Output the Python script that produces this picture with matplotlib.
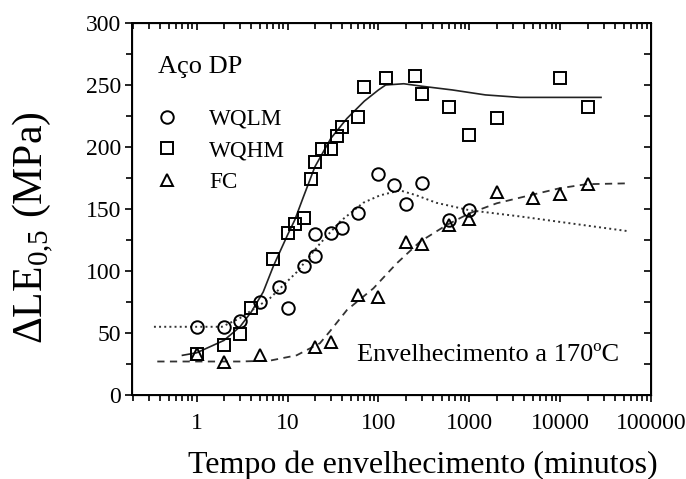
import matplotlib
matplotlib.use('Agg')
import matplotlib.pyplot as plt
from matplotlib.ticker import LogLocator, MultipleLocator, NullFormatter, FixedLocator

plt.rcParams['font.family'] = ['Liberation Serif', 'DejaVu Serif']
plt.rcParams['mathtext.fontset'] = 'custom'
plt.rcParams['mathtext.rm'] = 'Liberation Serif'

# dados (tempo em minutos, delta LE em MPa)
t_wqlm = [1, 2, 3, 5, 8, 10, 15, 20, 20, 30, 40, 60, 100, 150, 200, 300, 600, 1000]
v_wqlm = [55, 55, 60, 75, 87, 70, 104, 112, 130, 131, 135, 147, 178, 169, 154, 171, 141, 149]

t_wqhm = [1, 2, 3, 4, 7, 10, 12, 15, 18, 20, 24, 30, 35, 40, 60, 70, 120, 250, 300, 600, 1000, 2000, 10000, 20000]
v_wqhm = [33, 40, 49, 70, 110, 131, 138, 143, 174, 188, 198, 198, 209, 216, 224, 248, 256, 257, 243, 232, 210, 223, 256, 232]

t_fc = [1, 2, 5, 20, 30, 60, 100, 200, 300, 600, 1000, 2000, 5000, 10000, 20000]
v_fc = [33, 27, 32, 39, 43, 81, 79, 123, 122, 137, 142, 164, 159, 162, 170]

# curvas ajustadas (pontos lidos ao longo das linhas)
t_curva_wqhm = [0.7, 1, 2, 3, 4, 5.4, 7, 10, 12, 15, 20, 30, 45, 70, 100, 120, 190, 300, 650, 1500, 3600, 8000, 28000]
v_curva_wqhm = [32, 34, 44, 55, 67, 83, 104, 129, 141, 160, 184, 207, 223, 237, 246, 250, 251, 249, 246, 242, 240, 240, 240]

t_curva_wqlm = [0.34, 1, 1.9, 3, 6.4, 12.6, 22.7, 38, 68, 104, 173, 262, 433, 1000, 3600, 12700, 57000]
v_curva_wqlm = [55, 55, 55, 62, 78, 99, 122, 140, 155, 161, 165, 161, 155, 149, 144, 138.5, 132]

t_curva_fc = [0.37, 1, 3, 6.4, 12.6, 22.7, 29, 45, 88, 158, 286, 560, 1000, 2000, 4600, 9800, 19400, 57000]
v_curva_fc = [27, 27, 27, 27.7, 32, 41.7, 51, 68.5, 86, 106, 123.6, 137, 146.5, 154.6, 161, 166.7, 170, 170.7]

fig = plt.figure(figsize=(6.86, 4.79), dpi=100)
ax = fig.add_axes([0.1924, 0.1754, 0.757, 0.7766])

ax.plot(t_curva_wqhm, v_curva_wqhm, '-', color='#222222', lw=1.2)
ax.plot(t_curva_wqlm, v_curva_wqlm, ':', color='#333333', lw=1.4)
ax.plot(t_curva_fc, v_curva_fc, '--', color='#333333', lw=1.3, dashes=(4, 3))

mk = dict(linestyle='none', markerfacecolor='none', markeredgecolor='black', markeredgewidth=1.4)
ax.plot(t_wqlm, v_wqlm, marker='o', markersize=9, label='WQLM', **mk)
ax.plot(t_wqhm, v_wqhm, marker='s', markersize=8, label='WQHM', **mk)
ax.plot(t_fc, v_fc, marker='^', markersize=9, label='FC', **mk)

ax.set_xscale('log')
ax.set_xlim(0.195, 100000)
ax.set_ylim(0, 300)

ax.xaxis.set_major_locator(FixedLocator([1, 10, 100, 1000, 10000, 100000]))
ax.xaxis.set_minor_locator(LogLocator(base=10, subs=range(2, 10), numticks=20))
ax.xaxis.set_minor_formatter(NullFormatter())
ax.set_xticklabels(['1', '10', '100', '1000', '10000', '100000'])
ax.yaxis.set_major_locator(MultipleLocator(50))
ax.yaxis.set_minor_locator(MultipleLocator(25))

ax.tick_params(which='both', direction='out', labelsize=17, width=1.2, colors='black')
ax.tick_params(which='major', length=5, pad=3)
ax.tick_params(axis='x', which='major', pad=8)
ax.tick_params(which='minor', length=4)
for s in ax.spines.values():
    s.set_linewidth(1.4)

# ticks internos em cima e a direita
axt = ax.twiny()
axt.set_xscale('log')
axt.set_xlim(ax.get_xlim())
axt.xaxis.set_major_locator(FixedLocator([1, 10, 100, 1000, 10000, 100000]))
axt.xaxis.set_minor_locator(LogLocator(base=10, subs=range(2, 10), numticks=20))
axt.tick_params(which='both', direction='in', labeltop=False, width=1.2)
axt.tick_params(which='major', length=5)
axt.tick_params(which='minor', length=4)
axr = ax.twinx()
axr.set_ylim(ax.get_ylim())
axr.yaxis.set_major_locator(MultipleLocator(50))
axr.yaxis.set_minor_locator(MultipleLocator(25))
axr.tick_params(which='both', direction='in', labelright=False, width=1.2, length=5)

ax.legend(loc='upper left', bbox_to_anchor=(0.028, 0.795), frameon=False, fontsize=16.7,
          handlelength=1.0, handletextpad=1.3, labelspacing=0.45, borderaxespad=0)

ax.text(0.05, (395 - 67) / 372, 'Aço DP', transform=ax.transAxes, fontsize=19, va='center', ha='left')
ax.text(0.939, (395 - 355) / 372, 'Envelhecimento a 170ºC', transform=ax.transAxes, fontsize=19,
        va='center', ha='right')

fig.text(33 / 686, 1 - 228 / 479, r'ΔLE$_{\mathrm{0{,}5}}$ (MPa)', rotation=90, fontsize=30,
         ha='center', va='center')
fig.text(423 / 686, 1 - 465 / 479, 'Tempo de envelhecimento (minutos)', fontsize=23,
         ha='center', va='center')

fig.savefig('out.png', dpi=100)
